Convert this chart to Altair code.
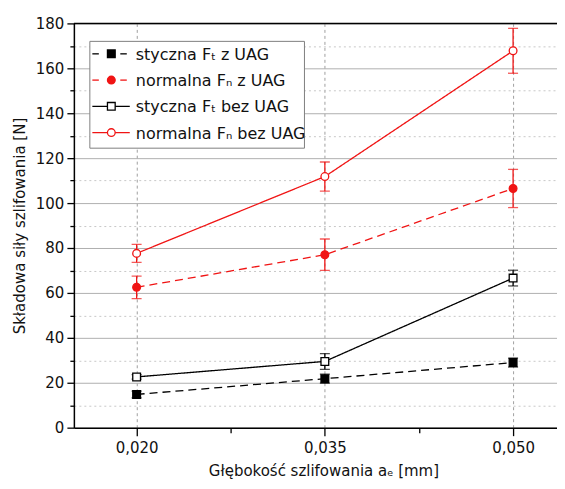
import altair as alt
import pandas as pd

# ---- data ----
depth = [0.020, 0.035, 0.050]
series = ["styczna Fₜ z UAG", "normalna Fₙ z UAG", "styczna Fₜ bez UAG", "normalna Fₙ bez UAG"]
ft_z = [14.8, 21.8, 29.0]
ft_z_err = [1.5, 2.0, 2.0]
fn_z = [62.5, 77.0, 106.5]
fn_z_err = [5.0, 7.0, 8.5]
ft_bez = [22.6, 29.5, 66.6]
ft_bez_err = [1.0, 3.5, 3.5]
fn_bez = [77.6, 111.8, 167.8]
fn_bez_err = [4.0, 6.5, 10.0]

y_ticks = list(range(0, 181, 10))
x_ticks = [0.020, 0.0275, 0.035, 0.0425, 0.050]

# ---- styles ----
RED = "#f01414"
BLACK = "#000000"
stroke_range = [BLACK, RED, BLACK, RED]
fill_range = [BLACK, RED, "white", "white"]
shape_list = ["square", "circle", "square", "circle"]
dashed_list = [True, True, False, False]
dash_range = [[8, 5], [8, 5], [1, 0], [1, 0]]

stroke_map = dict(zip(series, stroke_range))

rows = []
for s, vals, errs in zip(series, [ft_z, fn_z, ft_bez, fn_bez],
                         [ft_z_err, fn_z_err, ft_bez_err, fn_bez_err]):
    for x, v, e in zip(depth, vals, errs):
        rows.append({"x": x, "y": v, "lo": v - e, "hi": v + e, "series": s,
                     "stroke_col": stroke_map[s]})
df = pd.DataFrame(rows)

W, H = 484, 405

major_x = "abs((datum.value*1000-20)/15 - round((datum.value*1000-20)/15)) < 0.01"

x_axis = alt.Axis(
    values=x_ticks,
    labelExpr=f"{major_x} ? replace(format(datum.value, '.3f'), '.', ',') : ''",
    labelOverlap=False,
    tickSize={"condition": {"test": f"!({major_x})", "value": 5}, "value": 8},
    grid=True,
    gridDash=[3, 3],
    gridColor="#a0a0a0",
    gridOpacity={"condition": {"test": f"!({major_x})", "value": 0}, "value": 1},
    labelPadding=5,
    titlePadding=8,
    titleX=250,
)

y_axis = alt.Axis(
    values=y_ticks,
    labelExpr="datum.value % 20 == 0 ? datum.label : ''",
    labelOverlap=False,
    tickSize={"condition": {"test": "datum.value % 20 != 0", "value": 4}, "value": 7},
    grid=True,
    gridDash={"condition": {"test": "datum.value % 20 != 0", "value": [2, 3]}, "value": []},
    gridColor={"condition": {"test": "datum.value % 20 != 0", "value": "#c8c8c8"}, "value": "#b0b0b0"},
    labelPadding=3,
    titlePadding=8,
)

X_TITLE = "Głębokość szlifowania aₑ [mm]"
Y_TITLE = "Składowa siły szlifowania [N]"
xscale = alt.Scale(domain=[0.015, 0.0535], nice=False, zero=False)
yscale = alt.Scale(domain=[0, 180], nice=False)


def X(field="x"):
    return alt.X(f"{field}:Q", scale=xscale, axis=x_axis, title=X_TITLE)


def Y(field):
    return alt.Y(f"{field}:Q", scale=yscale, axis=y_axis, title=Y_TITLE)


base = alt.Chart(df)

err_rule = base.mark_rule(strokeWidth=1.3).encode(
    x=X(), y=Y("lo"), y2="hi:Q",
    color=alt.Color("stroke_col:N", scale=None),
)
cap_lo = base.mark_tick(orient="horizontal", size=10, thickness=1.3).encode(
    x=X(), y=Y("lo"), color=alt.Color("stroke_col:N", scale=None),
)
cap_hi = base.mark_tick(orient="horizontal", size=10, thickness=1.3).encode(
    x=X(), y=Y("hi"), color=alt.Color("stroke_col:N", scale=None),
)
lines = base.mark_line(strokeWidth=1.3).encode(
    x=X(), y=Y("y"),
    color=alt.Color("stroke_col:N", scale=None),
    strokeDash=alt.StrokeDash("series:N", scale=alt.Scale(domain=series, range=dash_range), legend=None),
    detail="series:N",
)

point_layers = []
for s, shp, fc, sc in zip(series, shape_list, fill_range, stroke_range):
    point_layers.append(
        base.transform_filter(alt.datum.series == s)
        .mark_point(shape=shp, size=60, strokeWidth=1.3, fill=fc, stroke=sc, opacity=1, fillOpacity=1)
        .encode(x=X(), y=Y("y"))
    )

# ---- legend box (drawn in plot pixel space) ----
one = pd.DataFrame({"a": [0]})
LEG_X0, LEG_X1, LEG_Y0, LEG_Y1 = 16, 231, 18, 125
ROW0, ROW_STEP = 30.5, 26.3
SYM_L, SYM_R, SYM_C = 18.5, 56, 37.5
TEXT_X = 62

legend_layers = [
    alt.Chart(one).mark_rect(fill="white", stroke="#808080", strokeWidth=1).encode(
        x=alt.value(LEG_X0), x2=alt.value(LEG_X1), y=alt.value(LEG_Y0), y2=alt.value(LEG_Y1)
    )
]
for i, (s, shp, fc, sc, dashed) in enumerate(zip(series, shape_list, fill_range, stroke_range, dashed_list)):
    yy = ROW0 + i * ROW_STEP
    if dashed:
        segs = [(SYM_L, SYM_L + 6.5), (SYM_C + 9, SYM_C + 15.5)]
    else:
        segs = [(SYM_L, SYM_R)]
    for a, b in segs:
        legend_layers.append(
            alt.Chart(one).mark_rule(color=sc, strokeWidth=1.3).encode(
                x=alt.value(a), x2=alt.value(b), y=alt.value(yy)
            )
        )
    legend_layers.append(
        alt.Chart(one).mark_point(shape=shp, size=60, strokeWidth=1.3, fill=fc, stroke=sc,
                                  opacity=1, fillOpacity=1).encode(
            x=alt.value(SYM_C), y=alt.value(yy)
        )
    )
    legend_layers.append(
        alt.Chart(one).mark_text(align="left", baseline="middle", font="DejaVu Sans",
                                 fontSize=16, color="#111").encode(
            x=alt.value(TEXT_X), y=alt.value(yy + 1), text=alt.value(s)
        )
    )

frame_top = alt.Chart(one).mark_rule(color="black", strokeWidth=1.5).encode(
    x=alt.value(0), x2=alt.value(W), y=alt.value(0)
)

chart = alt.layer(
    err_rule, cap_lo, cap_hi, lines, *point_layers, *legend_layers, frame_top
).properties(
    width=W, height=H,
    padding={"left": 66, "top": 15, "right": 0, "bottom": 58},
    autosize="none",
).configure_view(
    stroke=None
).configure_axis(
    labelFont="DejaVu Sans", titleFont="DejaVu Sans",
    labelFontSize=15, titleFontSize=15, titleFontWeight="normal",
    labelColor="#111", titleColor="#111",
    domainColor="black", tickColor="black", domainWidth=1.5, tickWidth=1.3,
)

chart.save("out.html", embed_options={"renderer": "svg", "actions": False})
